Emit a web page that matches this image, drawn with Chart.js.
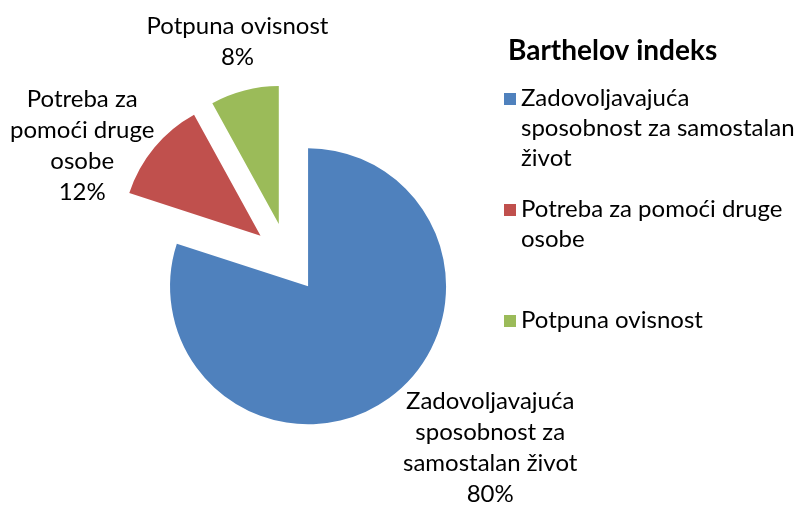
<!DOCTYPE html>
<html>
<head>
<meta charset="utf-8">
<script src="https://cdn.jsdelivr.net/npm/chart.js@4.4.1/dist/chart.umd.min.js"></script>
<style>
  html, body { margin: 0; padding: 0; background: #fff; }
  #wrap { width: 801px; height: 506px; position: relative; }
</style>
</head>
<body>
<div id="wrap"><canvas id="chart"></canvas></div>
<script>
// Chart data
const categories = [
  "Zadovoljavajuća sposobnost za samostalan život",
  "Potreba za pomoći druge osobe",
  "Potpuna ovisnost",
];
const shares = [80, 12, 8];
const sliceColors = ["#4F81BD", "#C0504D", "#9BBB59"];
const legendTitle = "Barthelov indeks";

const FONT = "Lato, 'Open Sans', sans-serif";

// Greedy word wrap using the canvas' own text metrics.
function wrapText(ctx, text, maxWidth) {
  const words = text.split(" ");
  const lines = [];
  let line = "";
  for (const w of words) {
    const test = line ? line + " " + w : w;
    if (line && ctx.measureText(test).width > maxWidth) {
      lines.push(line);
      line = w;
    } else {
      line = test;
    }
  }
  if (line) lines.push(line);
  return lines;
}

// Move every slice out from the centre along its mid angle (all slices exploded).
// Chart.js' own `offset` also grows the radius, so shift the arc centres instead.
const explodePlugin = {
  id: "explode",
  afterDatasetsUpdate(chart, args, opts) {
    chart.getDatasetMeta(0).data.forEach((arc) => {
      const mid = (arc.startAngle + arc.endAngle) / 2;
      arc.x += Math.cos(mid) * opts.distance;
      arc.y += Math.sin(mid) * opts.distance;
    });
  },
};

// Category name + percentage outside each slice.
const sliceLabelPlugin = {
  id: "sliceLabels",
  afterDatasetsDraw(chart, args, opts) {
    const { ctx } = chart;
    const values = chart.data.datasets[0].data;
    const total = values.reduce((a, b) => a + b, 0);
    ctx.save();
    ctx.font = `${opts.size}px ${FONT}`;
    ctx.fillStyle = "#000";
    ctx.textAlign = "center";
    ctx.textBaseline = "middle";
    chart.getDatasetMeta(0).data.forEach((arc, i) => {
      const mid = (arc.startAngle + arc.endAngle) / 2;
      const ax = arc.x + Math.cos(mid) * arc.outerRadius;
      const ay = arc.y + Math.sin(mid) * arc.outerRadius;
      const lines = wrapText(ctx, chart.data.labels[i], opts.wrap[i]);
      lines.push(Math.round((values[i] / total) * 100) + "%");
      const cx = ax + opts.shift[i][0];
      const cy = ay + opts.shift[i][1];
      lines.forEach((ln, k) => {
        ctx.fillText(ln, cx, cy + (k - (lines.length - 1) / 2) * opts.lineHeight);
      });
    });
    ctx.restore();
  },
};

// Legend on the right with wrapped entries, like the spreadsheet original.
const sideLegendPlugin = {
  id: "sideLegend",
  afterDraw(chart, args, opts) {
    const { ctx } = chart;
    const colors = chart.data.datasets[0].backgroundColor;
    ctx.save();
    ctx.fillStyle = "#000";
    ctx.textAlign = "left";
    ctx.textBaseline = "alphabetic";
    ctx.font = `bold ${opts.titleSize}px ${FONT}`;
    ctx.fillText(opts.title, opts.titleX, opts.titleY);

    ctx.font = `${opts.size}px ${FONT}`;
    chart.data.labels.forEach((label, i) => {
      const base = opts.firstBaseline + i * opts.pitch;
      ctx.fillStyle = colors[i];
      ctx.fillRect(opts.boxX, base - opts.boxSize - 1, opts.boxSize, opts.boxSize);
      ctx.fillStyle = "#000";
      wrapText(ctx, label, opts.wrap).forEach((ln, k) => {
        ctx.fillText(ln, opts.textX, base + k * opts.lineHeight);
      });
    });
    ctx.restore();
  },
};

new Chart(document.getElementById("chart"), {
  type: "pie",
  data: {
    labels: categories,
    datasets: [
      {
        data: shares,
        backgroundColor: sliceColors,
        borderWidth: 0,
      },
    ],
  },
  options: {
    responsive: true,
    maintainAspectRatio: false,
    animation: false,
    events: [],
    radius: 138,
    layout: { padding: { left: 0, right: 226, top: 10, bottom: 0 } },
    plugins: {
      legend: { display: false },
      tooltip: { enabled: false },
      explode: { distance: 35 },
      sliceLabels: {
        size: 24,
        lineHeight: 31,
        wrap: [205, 165, 210],
        shift: [[101, 50], [-72, -2], [-7, -49]],
      },
      sideLegend: {
        title: legendTitle,
        titleSize: 28,
        titleX: 508,
        titleY: 60,
        size: 24,
        boxX: 504,
        boxSize: 12,
        textX: 521,
        firstBaseline: 106,
        pitch: 111,
        lineHeight: 30,
        wrap: 278,
      },
    },
  },
  plugins: [explodePlugin, sliceLabelPlugin, sideLegendPlugin],
});
</script>
</body>
</html>
